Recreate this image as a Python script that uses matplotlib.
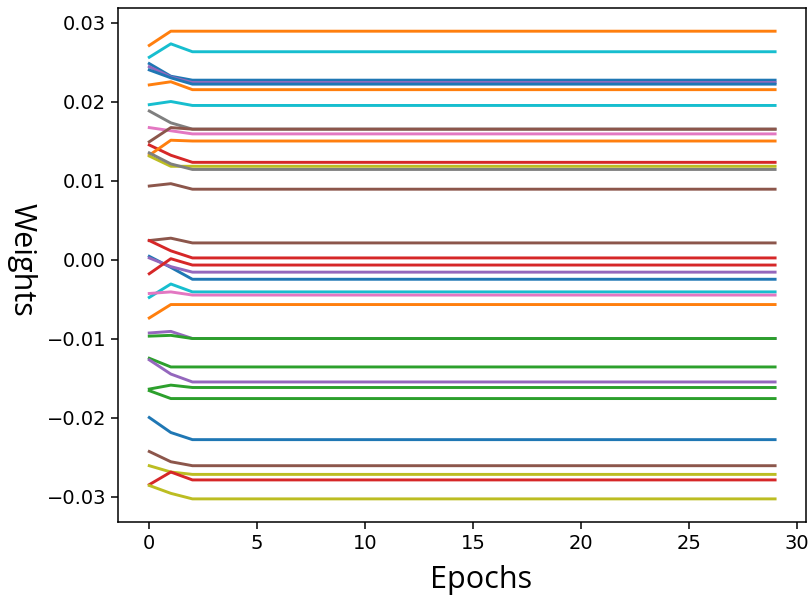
import matplotlib
matplotlib.use("Agg")
import matplotlib.pyplot as plt
import numpy as np

n_epochs = 30

# weight value at epoch 0, epoch 1 and the plateau reached from epoch 2 on
start = [0.0271, 0.0256, 0.0248, 0.0244, 0.0240, 0.0221, 0.0196, 0.0188, 0.0167,
         0.0149, 0.0145, 0.0132, 0.0131, 0.0135, 0.0093,
         0.0024, 0.0024, 0.0004, 0.0002, -0.0018, -0.0048, -0.0043, -0.0074,
         -0.0093, -0.0097, -0.0125, -0.0127, -0.0164, -0.0166,
         -0.0200, -0.0243, -0.0261, -0.0285, -0.0286]
epoch1 = [0.0289, 0.0273, 0.0232, 0.0231, 0.0230, 0.0225, 0.0200, 0.0173, 0.0163,
          0.0167, 0.0132, 0.0151, 0.0118, 0.0121, 0.0096,
          0.0027, 0.0011, -0.0010, -0.0009, 0.0001, -0.0031, -0.0041, -0.0057,
          -0.0091, -0.0096, -0.0136, -0.0145, -0.0159, -0.0176,
          -0.0219, -0.0256, -0.0269, -0.0269, -0.0296]
final = [0.0289, 0.0263, 0.0227, 0.0224, 0.0222, 0.0215, 0.0195, 0.0165, 0.0159,
         0.0165, 0.0123, 0.0150, 0.0118, 0.0114, 0.0089,
         0.0021, 0.0002, -0.0025, -0.0016, -0.0007, -0.0041, -0.0045, -0.0057,
         -0.0100, -0.0100, -0.0136, -0.0155, -0.0162, -0.0176,
         -0.0228, -0.0261, -0.0272, -0.0279, -0.0303]

colors = ["C1", "C9", "C0", "C4", "C0", "C1", "C9", "C7", "C6",
          "C5", "C3", "C1", "C8", "C7", "C5",
          "C5", "C3", "C0", "C4", "C3", "C9", "C6", "C1",
          "C4", "C2", "C2", "C4", "C2", "C2",
          "C0", "C5", "C8", "C3", "C8"]

epochs = np.arange(n_epochs)

fig = plt.figure(figsize=(8.08, 6.01), dpi=100)
ax = fig.add_axes([0.146, 0.131, 0.852, 0.856])

for s, e1, f, c in zip(start, epoch1, final, colors):
    weights = [s, e1] + [f] * (n_epochs - 2)
    ax.plot(epochs, weights, color=c, linewidth=2.1)

ax.set_xticks([0, 5, 10, 15, 20, 25, 30])
ax.set_yticks([-0.03, -0.02, -0.01, 0.0, 0.01, 0.02, 0.03])
ax.tick_params(labelsize=14, length=5, width=1.1)
for sp in ax.spines.values():
    sp.set_linewidth(1.1)

fig.text(0.027, 0.567, "Weights", rotation=270, ha="center", va="center",
         fontsize=22, family="Open Sans")
fig.text(0.595, 0.035, "Epochs", ha="center", va="center",
         fontsize=22, family="Open Sans")

fig.savefig("out.png", dpi=100)
